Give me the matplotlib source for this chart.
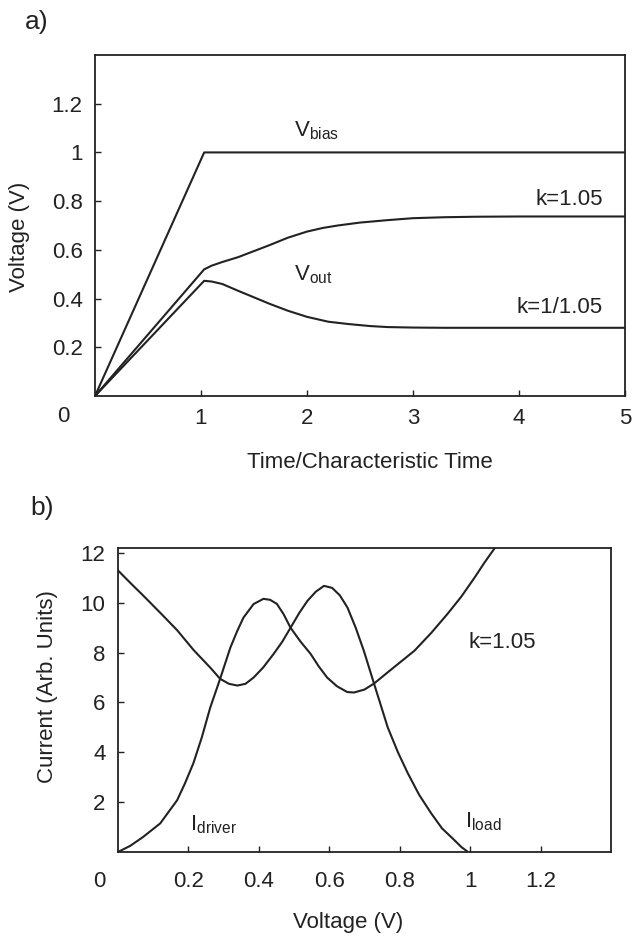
import matplotlib
matplotlib.use("Agg")
import matplotlib.pyplot as plt

plt.rcParams['font.family'] = ['Liberation Sans', 'DejaVu Sans']

# panel a) transient response
t_bias = [0, 1.03, 5.0]
v_bias = [0, 1.0, 1.0]

t_hi = [0, 1.03, 1.1, 1.2, 1.35, 1.5, 1.65, 1.82, 2.0, 2.15, 2.29, 2.5, 2.76, 3.0, 3.3, 3.6, 4.0, 5.0]
v_hi = [0, 0.52, 0.535, 0.55, 0.57, 0.595, 0.62, 0.65, 0.675, 0.69, 0.70, 0.712, 0.722, 0.73,
        0.734, 0.736, 0.737, 0.737]

t_lo = [0, 1.03, 1.1, 1.2, 1.35, 1.5, 1.65, 1.82, 2.0, 2.2, 2.4, 2.6, 2.76, 3.0, 3.3, 3.6, 4.0, 5.0]
v_lo = [0, 0.473, 0.47, 0.46, 0.432, 0.405, 0.378, 0.35, 0.325, 0.305, 0.295, 0.287, 0.283,
        0.281, 0.28, 0.28, 0.28, 0.28]

# panel b) currents vs voltage
v_load = [0, 0.035, 0.071, 0.12, 0.168, 0.215, 0.262, 0.29, 0.315, 0.339, 0.362, 0.385,
          0.412, 0.442, 0.467, 0.49, 0.515, 0.538, 0.562, 0.585, 0.608, 0.63, 0.652,
          0.675, 0.698, 0.727, 0.766, 0.795, 0.823, 0.855, 0.889, 0.92, 0.955, 0.975, 0.994]
i_load = [11.3, 10.8, 10.3, 9.6, 8.9, 8.1, 7.4, 6.95, 6.75, 6.68, 6.75, 7.0,
          7.4, 7.95, 8.45, 9.0, 9.6, 10.08, 10.45, 10.68, 10.6, 10.3, 9.8,
          9.0, 8.08, 6.76, 5.0, 4.0, 3.16, 2.3, 1.56, 0.95, 0.48, 0.2, 0.0]

v_driver = [0, 0.035, 0.071, 0.12, 0.168, 0.19, 0.214, 0.238, 0.262, 0.29, 0.319, 0.338,
            0.356, 0.385, 0.413, 0.432, 0.451, 0.47, 0.49, 0.518, 0.547, 0.57, 0.594,
            0.622, 0.651, 0.67, 0.7, 0.727, 0.765, 0.8, 0.842, 0.89, 0.936, 0.975,
            1.012, 1.04, 1.07]
i_driver = [0, 0.25, 0.6, 1.15, 2.08, 2.75, 3.56, 4.6, 5.8, 6.95, 8.2, 8.85,
            9.4, 9.95, 10.16, 10.12, 9.96, 9.55, 9.0, 8.45, 7.95, 7.45, 7.0,
            6.65, 6.42, 6.4, 6.52, 6.76, 7.2, 7.6, 8.08, 8.8, 9.56, 10.25,
            11.0, 11.6, 12.2]

a_xticks = [1, 2, 3, 4, 5]
a_yticks = [0.2, 0.4, 0.6, 0.8, 1.0, 1.2]
a_yticks_lbl = ['0.2', '0.4', '0.6', '0.8', '1', '1.2']
b_xticks = [0.2, 0.4, 0.6, 0.8, 1.0, 1.2]
b_xticks_lbl = ['0.2', '0.4', '0.6', '0.8', '1', '1.2']
b_yticks = [2, 4, 6, 8, 10, 12]

ink = '#222222'
fs = 16
W, H = 634, 938

fig = plt.figure(figsize=(6.34, 9.38), dpi=100)

def px(x, y):
    return x / W, 1 - y / H

def style(ax):
    for s in ax.spines.values():
        s.set_linewidth(1.3)
        s.set_color(ink)
    ax.tick_params(direction='in', length=4, width=1, colors=ink,
                   labelsize=fs, top=False, right=False)

# ---- a) ----
ax1 = fig.add_axes([95 / W, 1 - 396 / H, 530 / W, 341 / H])
ax1.plot(t_bias, v_bias, color=ink, lw=1.5)
ax1.plot(t_hi, v_hi, color=ink, lw=1.5)
ax1.plot(t_lo, v_lo, color=ink, lw=1.5)
ax1.set_xlim(0, 5)
ax1.set_ylim(0, 1.4)
ax1.set_xticks(a_xticks)
ax1.set_yticks(a_yticks)
ax1.set_yticklabels(a_yticks_lbl)
style(ax1)
ax1.tick_params(axis='x', pad=9)
ax1.tick_params(axis='y', pad=9)
ax1.text(1.88, 1.09, r'V$_{\mathregular{bias}}$', fontsize=fs, va='center', color=ink)
ax1.text(1.88, 0.50, r'V$_{\mathregular{out}}$', fontsize=fs, va='center', color=ink)
ax1.text(4.79, 0.805, 'k=1.05', fontsize=fs, va='center', ha='right', color=ink)
ax1.text(4.79, 0.365, 'k=1/1.05', fontsize=fs, va='center', ha='right', color=ink)

fig.text(*px(63, 417), '0', fontsize=fs, ha='center', va='center', color=ink)
fig.text(*px(20, 237), 'Voltage (V)', fontsize=fs, rotation=90,
         ha='center', va='center', color=ink)
fig.text(*px(370, 463), 'Time/Characteristic Time', fontsize=fs,
         ha='center', va='center', color=ink)
fig.text(*px(37, 22), 'a)', fontsize=19, ha='center', va='center', color=ink)

# ---- b) ----
ax2 = fig.add_axes([118 / W, 1 - 852 / H, 493 / W, 304 / H])
ax2.plot(v_load, i_load, color=ink, lw=1.5)
ax2.plot(v_driver, i_driver, color=ink, lw=1.5)
ax2.set_xlim(0, 1.4)
ax2.set_ylim(0, 12.2)
ax2.set_xticks(b_xticks)
ax2.set_xticklabels(b_xticks_lbl)
ax2.set_yticks(b_yticks)
style(ax2)
ax2.tick_params(axis='x', pad=14)
ax2.tick_params(axis='y', pad=9)
ax2.text(0.994, 8.4, 'k=1.05', fontsize=fs, va='center', ha='left', color=ink)
ax2.text(0.205, 1.1, r'I$_{\mathregular{driver}}$', fontsize=fs, va='center', color=ink)
ax2.text(0.985, 1.2, r'I$_{\mathregular{load}}$', fontsize=fs, va='center', color=ink)

fig.text(*px(99, 881), '0', fontsize=fs, ha='center', va='center', color=ink)
fig.text(*px(48, 687), 'Current (Arb. Units)', fontsize=fs, rotation=90,
         ha='center', va='center', color=ink)
fig.text(*px(348, 922), 'Voltage (V)', fontsize=fs,
         ha='center', va='center', color=ink)
fig.text(*px(42, 508), 'b)', fontsize=19, ha='center', va='center', color=ink)

fig.savefig('out.png', dpi=100)
